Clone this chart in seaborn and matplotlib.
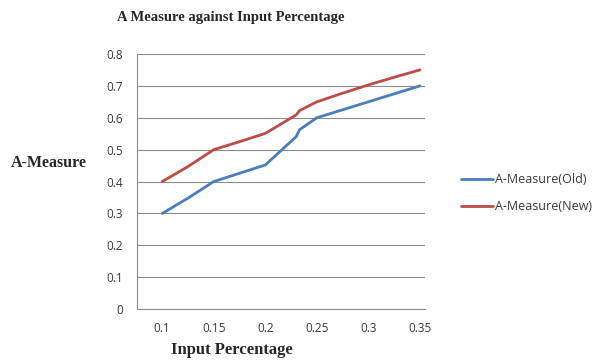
import numpy as np
import pandas as pd
import seaborn as sns
import matplotlib
matplotlib.use("Agg")
import matplotlib.pyplot as plt

x_vals = [0.1, 0.125, 0.15, 0.175, 0.2, 0.23, 0.233, 0.25, 0.275, 0.3, 0.325, 0.35]
old_vals = [0.30, 0.348, 0.40, 0.426, 0.452, 0.541, 0.562, 0.60, 0.625, 0.65, 0.675, 0.70]
new_vals = [0.40, 0.447, 0.50, 0.525, 0.551, 0.609, 0.622, 0.65, 0.677, 0.703, 0.727, 0.75]
series_names = ["A-Measure(Old)", "A-Measure(New)"]
x_tick_vals = [0.1, 0.15, 0.2, 0.25, 0.3, 0.35]
x_tick_labels = ["0.1", "0.15", "0.2", "0.25", "0.3", "0.35"]
y_tick_vals = [0, 0.1, 0.2, 0.3, 0.4, 0.5, 0.6, 0.7, 0.8]
y_tick_labels = ["0", "0.1", "0.2", "0.3", "0.4", "0.5", "0.6", "0.7", "0.8"]
x_boundaries = [0.125, 0.175, 0.225, 0.275]

df = pd.DataFrame({
    "x": x_vals * 2,
    "y": old_vals + new_vals,
    "series": [series_names[0]] * len(x_vals) + [series_names[1]] * len(x_vals),
})

sns.set_style("white")
plt.rcParams['font.family'] = ['Open Sans', 'DejaVu Sans']

fig = plt.figure(figsize=(5.98, 3.62), dpi=100)
ax = fig.add_axes([0.229, 0.146, 0.482, 0.705])

palette = {series_names[0]: "#4A7EBB", series_names[1]: "#BE4B48"}
sns.lineplot(data=df, x="x", y="y", hue="series", palette=palette, ax=ax,
             linewidth=2.0, estimator=None, sort=True)

ax.set_xlim(0.0755, 0.355)
ax.set_ylim(0, 0.8)
ax.set_yticks(y_tick_vals)
ax.set_yticklabels(y_tick_labels, fontsize=8.5, color="#3a3a3a")
ax.set_xticks(x_tick_vals)
ax.set_xticklabels(x_tick_labels, fontsize=8.5, color="#3a3a3a")
ax.set_xticks(x_boundaries, minor=True)
ax.tick_params(axis="x", which="major", length=0, pad=9)
ax.tick_params(axis="x", which="minor", length=4, direction="out", color="#888888", width=0.8)
ax.tick_params(axis="y", which="major", length=4, direction="out", color="#888888", width=0.8, pad=6)
ax.grid(axis="y", color="#8c8c8c", linewidth=0.8)
ax.set_axisbelow(True)
for s in ["top", "right"]:
    ax.spines[s].set_visible(False)
for s in ["left", "bottom"]:
    ax.spines[s].set_color("#8c8c8c")
    ax.spines[s].set_linewidth(0.8)

ax.set_xlabel("")
ax.set_ylabel("")
serif = ['Liberation Serif', 'DejaVu Serif']
fig.text(0.386, 0.953, "A Measure against Input Percentage", family=serif,
         fontweight="bold", fontsize=10.5, ha="center", va="center")
fig.text(0.388, 0.032, "Input Percentage", family=serif,
         fontweight="bold", fontsize=12, ha="center", va="center")
fig.text(0.018, 0.55, "A-Measure", family=serif,
         fontweight="bold", fontsize=11.5, ha="left", va="center")

leg = ax.legend(loc="center left", bbox_to_anchor=(1.085, 0.455), frameon=False,
                fontsize=9, handlelength=2.6, handletextpad=0.15, labelspacing=1.1)
for t in leg.get_texts():
    t.set_color("#3a3a3a")

fig.savefig("out.png", dpi=100)
